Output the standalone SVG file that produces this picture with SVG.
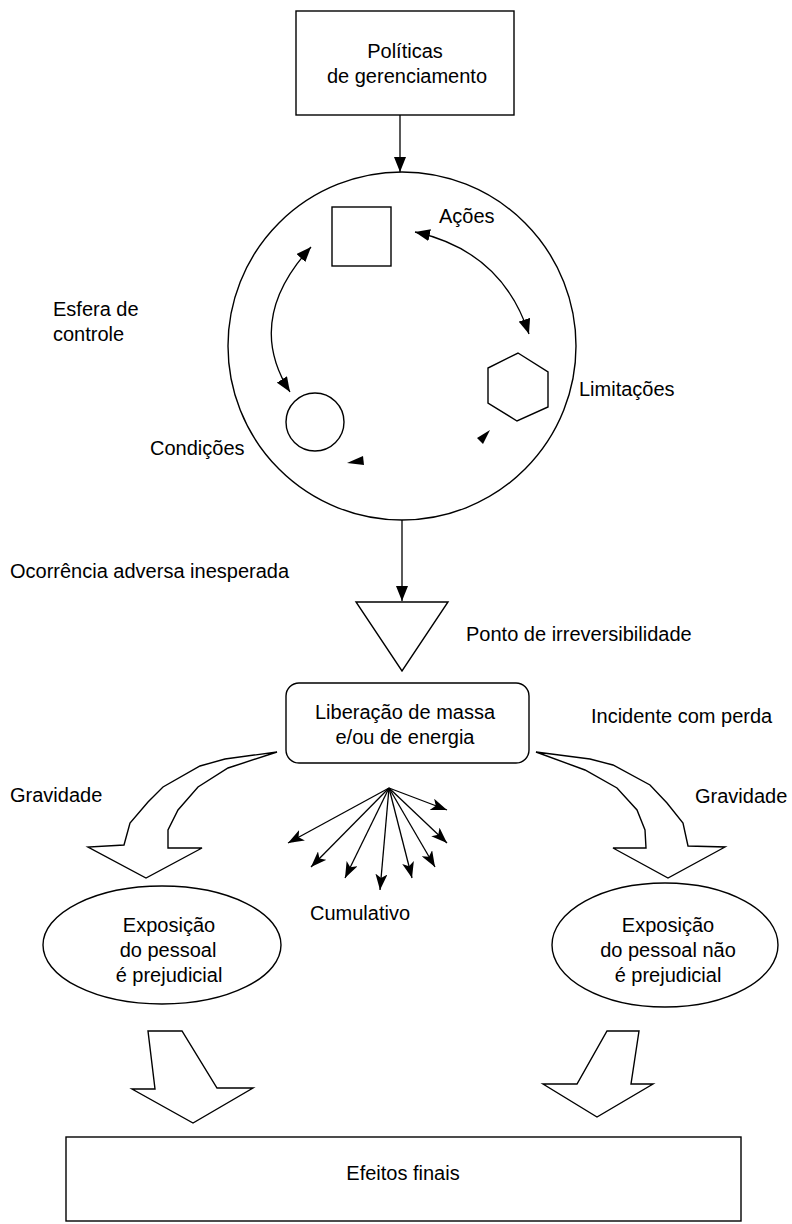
<svg xmlns="http://www.w3.org/2000/svg" width="792" height="1224" viewBox="0 0 792 1224">
<style>
text{font-family:"Liberation Sans",Arial,sans-serif;font-size:20px;fill:#000}
.s{fill:#fff;stroke:#000;stroke-width:1.4}
.ln{fill:none;stroke:#000;stroke-width:1.3}
.c{text-anchor:middle}
</style>
<defs>
<marker id="tri" viewBox="0 0 15 12" refX="15" refY="6" markerWidth="15" markerHeight="12" markerUnits="userSpaceOnUse" orient="auto-start-reverse"><path d="M0,0 L15,6 L0,12 z" fill="#000"/></marker>
<marker id="st" viewBox="0 0 16 12" refX="16" refY="6" markerWidth="16" markerHeight="12" markerUnits="userSpaceOnUse" orient="auto"><path d="M0,0 L16,6 L0,12 L4,6 z" fill="#000"/></marker>
</defs>
<g id="politicas"><rect class="s" x="296" y="11" width="218" height="104"/><text class="c" x="405" y="58">Políticas</text><text class="c" x="407" y="83">de gerenciamento</text></g>
<g id="esfera"><circle class="s" cx="402" cy="346" r="174"/></g>
<g id="acoes-shape"><rect class="s" x="332" y="207" width="59" height="59"/></g>
<g id="condicoes-shape"><circle class="s" cx="315" cy="422" r="29"/></g>
<g id="limitacoes-shape"><polygon class="s" points="518,353 548,372 548,407 517,421 488,403 488,368"/></g>
<g id="triangulo"><polygon class="s" points="356,602 448,602 402,671"/></g>
<g id="liberacao"><rect class="s" x="286" y="683" width="243" height="80" rx="13"/><text class="c" x="405" y="719">Liberação de massa</text><text class="c" x="405" y="744">e/ou de energia</text></g>
<g id="exp1"><ellipse class="s" cx="162" cy="945" rx="119" ry="59"/><text class="c" x="169" y="932">Exposição</text><text class="c" x="168" y="957">do pessoal</text><text class="c" x="169" y="982">é prejudicial</text></g>
<g id="exp2"><ellipse class="s" cx="665" cy="945" rx="113" ry="62"/><text class="c" x="668" y="932">Exposição</text><text class="c" x="668" y="957">do pessoal não</text><text class="c" x="668" y="982">é prejudicial</text></g>
<g id="efeitos"><rect class="s" x="66" y="1137" width="675" height="84"/><text class="c" x="403" y="1180">Efeitos finais</text></g>
<g id="labels">
<text x="439" y="223">Ações</text>
<text x="53" y="316">Esfera de</text>
<text x="53" y="341">controle</text>
<text x="579" y="396">Limitações</text>
<text x="150" y="455">Condições</text>
<text x="10" y="578">Ocorrência adversa inesperada</text>
<text x="466" y="641">Ponto de irreversibilidade</text>
<text x="591" y="723">Incidente com perda</text>
<text x="10" y="802">Gravidade</text>
<text x="695" y="803">Gravidade</text>
<text x="310" y="920">Cumulativo</text>
</g>
<g id="connectors">
<line class="ln" x1="400" y1="115" x2="400" y2="172" marker-end="url(#tri)"/>
<line class="ln" x1="402" y1="520" x2="402" y2="601" marker-end="url(#tri)"/>
<path class="ln" d="M311,247 Q244,320 290,392" marker-start="url(#tri)" marker-end="url(#tri)"/>
<path class="ln" d="M415,232 Q502,251 529,334" marker-start="url(#tri)" marker-end="url(#tri)"/>
<polygon points="347,463 363,456 364,465" fill="#000"/>
<polygon points="490,430 477,438 483,444" fill="#000"/>
<path class="s" d="M277,752 L225,759 L200,766 L163,787 L148,802 L130,823 L124,845 L88,847 L146,878 L202,848 L168,848 L168,830 L178,810 L198,787 L228,768 Z"/>
<path class="s" d="M536,752 L590,759 L613,765 L650,785 L667,803 L683,823 L688,846 L725,847 L668,878 L613,848 L646,848 L645,830 L637,810 L617,788 L585,770 Z"/>
<g marker-end="url(#st)" class="ln" stroke-width="1">
<line x1="389" y1="788" x2="447" y2="810"/>
<line x1="389" y1="788" x2="288" y2="843"/>
<line x1="389" y1="788" x2="311" y2="867"/>
<line x1="389" y1="788" x2="345" y2="878"/>
<line x1="389" y1="788" x2="380" y2="890"/>
<line x1="389" y1="788" x2="412" y2="878"/>
<line x1="389" y1="788" x2="435" y2="867"/>
<line x1="389" y1="788" x2="447" y2="843"/>
</g>
<polygon class="s" points="148,1031 182,1031 217,1088 253,1088 193,1123 132,1089 155,1089"/>
<polygon class="s" stroke-width="1.2" points="607,1031 639,1031 631,1084 653,1084 597,1117 543,1084 577,1084"/>
</g>
</svg>
